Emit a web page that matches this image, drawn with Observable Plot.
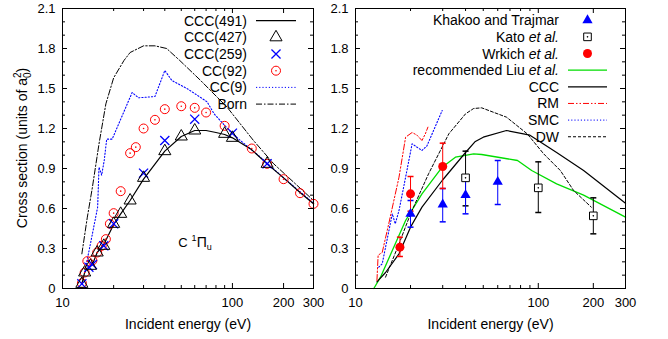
<!DOCTYPE html>
<html><head><meta charset="utf-8">
<script src="https://cdn.jsdelivr.net/npm/d3@7"></script>
<script src="https://cdn.jsdelivr.net/npm/@observablehq/plot@0.6"></script>
<style>
body{margin:0;background:#fff;}
#wrap{display:flex;width:668px;height:339px;}
svg{overflow:visible;display:block}
</style></head><body><div id="wrap"></div>
<script>
// ---------- tick values ----------
const xMajorTicks = [10, 100, 200, 300];
const xMinorTicks = [20, 30, 40, 50, 60, 70, 80, 90];
const yMajorTicks = [0, 0.3, 0.6, 0.9, 1.2, 1.5, 1.8, 2.1];
const yMinorTicks = [0.1, 0.2, 0.4, 0.5, 0.7, 0.8, 1.0, 1.1, 1.3, 1.4, 1.6, 1.7, 1.9, 2.0];

// ---------- left panel ----------
const ccc491E = [13, 13.5, 14, 15, 16, 17.5, 20, 22, 25, 30, 40, 50, 60, 70, 80, 90, 100, 130, 160, 200, 250, 300];
const ccc491V = [0.035, 0.12, 0.15, 0.18, 0.27, 0.33, 0.48, 0.56, 0.66, 0.82, 1.03, 1.14, 1.185, 1.185, 1.17, 1.155, 1.13, 1.04, 0.935, 0.83, 0.72, 0.635];

const ccc427E = [13, 13.5, 14.6, 16, 17.5, 20, 22, 25, 30, 40, 50, 60, 90, 100, 160];
const ccc427V = [0.035, 0.12, 0.17, 0.27, 0.32, 0.485, 0.56, 0.66, 0.83, 1.03, 1.14, 1.185, 1.16, 1.13, 0.935];

const ccc259E = [13, 14.3, 15, 17.5, 20, 30, 40, 60, 100, 160];
const ccc259V = [0.035, 0.16, 0.18, 0.32, 0.485, 0.865, 1.11, 1.27, 1.165, 0.935];

const cc92E = [13, 13.5, 14, 15, 16, 17, 18, 19, 20, 22, 25, 27, 30, 35, 40, 50, 60, 70, 90, 130, 160, 200, 250, 300];
const cc92V = [0.04, 0.12, 0.205, 0.21, 0.27, 0.32, 0.37, 0.485, 0.565, 0.73, 1.015, 1.06, 1.2, 1.265, 1.345, 1.367, 1.355, 1.32, 1.22, 1.05, 0.935, 0.82, 0.715, 0.635];

const cc9E = [13.8, 15, 16.1, 16.4, 17, 17.6, 18.2, 19.6, 25.7, 28, 35, 40, 44, 54, 71, 78, 100, 146, 200, 300];
const cc9V = [0.18, 0.41, 0.61, 0.91, 0.85, 0.96, 1.12, 1.12, 1.47, 1.43, 1.44, 1.635, 1.56, 1.5, 1.4, 1.31, 1.16, 0.985, 0.83, 0.64];

const bornE = [13, 14, 15, 16.4, 18, 20, 23, 25, 30, 35, 41, 49, 65, 93, 133, 175, 300];
const bornV = [0.26, 0.535, 0.76, 1.085, 1.385, 1.58, 1.71, 1.77, 1.82, 1.82, 1.8, 1.71, 1.56, 1.36, 1.11, 0.935, 0.66];

// ---------- right panel ----------
const khakooE = [20, 30, 40, 60];
const khakooV = [0.56, 0.63, 0.70, 0.80];
const khakooLo = [0.46, 0.50, 0.56, 0.63];
const khakooHi = [0.66, 0.75, 0.84, 0.96];

const katoE = [40, 100, 200];
const katoV = [0.83, 0.755, 0.545];
const katoLo = [0.62, 0.57, 0.41];
const katoHi = [1.03, 0.95, 0.68];

const wrkichE = [17.5, 20, 30];
const wrkichV = [0.31, 0.71, 0.915];
const wrkichLo = [0.24, 0.58, 0.75];
const wrkichHi = [0.385, 0.84, 1.09];

const liuE = [12.6, 13.7, 15.9, 18.8, 23.1, 29.8, 35.2, 44.3, 49, 77, 92, 126, 177, 300];
const liuV = [0, 0.085, 0.285, 0.51, 0.71, 0.91, 0.985, 1.01, 1.005, 0.96, 0.885, 0.785, 0.70, 0.535];

const cccE = [13.1, 14.6, 17.3, 20, 23.1, 29.8, 40, 45, 50, 67, 90, 126, 177, 300];
const cccV = [0.05, 0.12, 0.26, 0.46, 0.61, 0.81, 1.02, 1.1, 1.135, 1.185, 1.15, 1.02, 0.885, 0.64];

const dwE = [14.6, 17.3, 20, 25.1, 32.4, 40, 44.3, 49, 67, 87, 107, 132, 156, 195];
const dwV = [0.085, 0.335, 0.56, 0.86, 1.16, 1.31, 1.35, 1.355, 1.285, 1.16, 1.01, 0.885, 0.735, 0.61];

const rmE = [13.1, 13.3, 14.0, 15.2, 17.3, 18.8, 20.4, 21.7, 23.1, 24.1, 24.9];
const rmV = [0.06, 0.25, 0.27, 0.485, 0.835, 1.135, 1.17, 1.15, 1.11, 1.16, 1.21];

const smcE = [13.4, 14.0, 15.9, 16.5, 17.3, 18.8, 20.4, 23.1, 24.6, 29.8];
const smcV = [0.16, 0.185, 0.56, 0.485, 0.585, 0.835, 1.085, 1.035, 1.07, 1.335];

// ---------- legend labels ----------
const leftLabels = ["CCC(491)", "CCC(427)", "CCC(259)", "CC(92)", "CC(9)", "Born"];
const rightLabels = [
  [["Khakoo and Trajmar", false]],
  [["Kato ", false], ["et al.", true]],
  [["Wrkich ", false], ["et al.", true]],
  [["recommended Liu ", false], ["et al.", true]],
  [["CCC", false]],
  [["RM", false]],
  [["SMC", false]],
  [["DW", false]]
];

// ---------- helpers ----------
const rows = (E, V, lo, hi) => E.map((e, i) => ({E: e, v: V[i], lo: lo ? lo[i] : null, hi: hi ? hi[i] : null}));
const RED = "#ff0000", BLUE = "#0000ff", GREEN = "#00dd00", BLACK = "#000000";
const capSymbol = {draw(ctx, size) { const w = Math.sqrt(size / Math.PI); ctx.moveTo(-w, 0); ctx.lineTo(w, 0); }};
const FONT = "'Liberation Sans', Arial, Helvetica, sans-serif";

function frameTicks(iw, ih) {
  const M = 5, m = 3;
  const o = {stroke: BLACK, strokeWidth: 1};
  return [
    Plot.ruleX(xMajorTicks, {...o, x: d => d, insetTop: ih - M}),
    Plot.ruleX(xMajorTicks, {...o, x: d => d, insetBottom: ih - M}),
    Plot.ruleX(xMinorTicks, {...o, x: d => d, insetTop: ih - m}),
    Plot.ruleX(xMinorTicks, {...o, x: d => d, insetBottom: ih - m}),
    Plot.ruleY(yMajorTicks, {...o, y: d => d, insetRight: iw - M}),
    Plot.ruleY(yMajorTicks, {...o, y: d => d, insetLeft: iw - M}),
    Plot.ruleY(yMinorTicks, {...o, y: d => d, insetRight: iw - m}),
    Plot.ruleY(yMinorTicks, {...o, y: d => d, insetLeft: iw - m})
  ];
}

function axes() {
  return [
    Plot.text(xMajorTicks, {x: d => d, text: d => String(d), frameAnchor: "bottom", dy: 14, lineAnchor: "middle", fontSize: 13}),
    Plot.text(yMajorTicks, {y: d => d, text: d => d === 0 ? "0" : d.toFixed(1), frameAnchor: "left", dx: -7, textAnchor: "end", fontSize: 13}),
    Plot.text(["Incident energy (eV)"], {text: d => d, frameAnchor: "bottom", dy: 36, lineAnchor: "middle", fontSize: 14})
  ];
}

// legend: items = [{label:[[txt,italic]...], kind, ...style}]
function legend(items, {xText, x0, x1, y0, dy}) {
  return () => {
    const g = d3.create("svg:g").attr("font-size", 14).attr("font-family", FONT);
    items.forEach((it, i) => {
      const y = y0 + i * dy;
      const t = g.append("text").attr("x", xText).attr("y", y).attr("dy", "0.36em").attr("text-anchor", "end").attr("fill", "black");
      it.label.forEach(([s, it2]) => t.append("tspan").attr("font-style", it2 ? "italic" : null).text(s));
      const xc = (x0 + x1) / 2;
      if (it.kind === "line") {
        g.append("line").attr("x1", x0).attr("x2", x1).attr("y1", y).attr("y2", y)
          .attr("stroke", it.stroke).attr("stroke-width", it.sw || 1).attr("stroke-dasharray", it.dash || null);
      } else {
        const sym = d3.symbol(it.symbol, Math.PI * it.r * it.r)();
        g.append("path").attr("d", sym).attr("transform", `translate(${xc},${y})`)
          .attr("fill", it.fill || "none").attr("stroke", it.stroke || "none").attr("stroke-width", it.sw || 1);
        if (it.dot) g.append("circle").attr("cx", xc).attr("cy", y).attr("r", 0.8).attr("fill", it.stroke);
      }
    });
    return g.node();
  };
}

// ---------- left plot ----------
const L = {width: 327, height: 339, mt: 8, mb: 51, ml: 62, mr: 14};
const lIW = L.width - L.ml - L.mr, lIH = L.height - L.mt - L.mb;

const yLabel = (index, scales, values, dims) => {
  const g = d3.create("svg:g").attr("font-family", FONT);
  const cy = (dims.marginTop + dims.height - dims.marginBottom) / 2;
  const t = g.append("text").attr("transform", `translate(27,${cy}) rotate(-90)`).attr("text-anchor", "middle").attr("font-size", 14).attr("fill", "black");
  t.append("tspan").text("Cross section (units of a");
  t.append("tspan").attr("font-size", 10).attr("dy", 4).text("0");
  t.append("tspan").attr("font-size", 10).attr("dx", -5.6).attr("dy", -10).text("2");
  t.append("tspan").attr("dy", 6).text(")");
  return g.node();
};

const stateLabel = () => {
  const g = d3.create("svg:g").attr("font-family", FONT);
  const t = g.append("text").attr("x", 195).attr("y", 247).attr("font-size", 13).attr("fill", "black");
  t.append("tspan").text("C");
  t.append("tspan").attr("dx", 4).attr("dy", -6).attr("font-size", 9).text("1");
  t.append("tspan").attr("dy", 6).attr("font-size", 14).text("Π");
  t.append("tspan").attr("dy", 3).attr("font-size", 9).text("u");
  return g.node();
};

const leftItems = [
  {label: [[leftLabels[0], false]], kind: "line", stroke: BLACK, sw: 1.2},
  {label: [[leftLabels[1], false]], kind: "sym", symbol: d3.symbolTriangle, r: 4.5, stroke: BLACK},
  {label: [[leftLabels[2], false]], kind: "sym", symbol: d3.symbolTimes, r: 4.2, stroke: BLUE, sw: 1.3},
  {label: [[leftLabels[3], false]], kind: "sym", symbol: d3.symbolCircle, r: 4.5, stroke: RED, dot: true},
  {label: [[leftLabels[4], false]], kind: "line", stroke: BLUE, dash: "1.2,2"},
  {label: [[leftLabels[5], false]], kind: "line", stroke: BLACK, dash: "6,2,1.5,2"}
];

const left = Plot.plot({
  width: L.width, height: L.height,
  marginTop: L.mt, marginBottom: L.mb, marginLeft: L.ml, marginRight: L.mr,
  style: {fontFamily: FONT, fontSize: "13px", background: "white", color: "black", overflow: "visible"},
  x: {type: "log", domain: [10, 300], label: null, axis: null},
  y: {domain: [0, 2.1], label: null, axis: null},
  marks: [
    Plot.line(rows(bornE, bornV), {x: "E", y: "v", stroke: BLACK, strokeWidth: 1, strokeDasharray: "6,2,1.5,2"}),
    Plot.line(rows(cc9E, cc9V), {x: "E", y: "v", stroke: BLUE, strokeWidth: 1.1, strokeDasharray: "1.2,2"}),
    Plot.line(rows(ccc491E, ccc491V), {x: "E", y: "v", stroke: BLACK, strokeWidth: 1.2}),
    Plot.dot(rows(cc92E, cc92V), {x: "E", y: "v", r: 4.5, stroke: RED, strokeWidth: 1, fill: "none"}),
    Plot.dot(rows(cc92E, cc92V), {x: "E", y: "v", r: 0.8, fill: RED}),
    Plot.dot(rows(ccc259E, ccc259V), {x: "E", y: "v", symbol: "times", r: 4.2, stroke: BLUE, strokeWidth: 1.3}),
    Plot.dot(rows(ccc427E, ccc427V), {x: "E", y: "v", symbol: "triangle", r: 4.5, stroke: BLACK, strokeWidth: 1, fill: "none"}),
    ...frameTicks(lIW, lIH),
    Plot.frame({stroke: BLACK, strokeWidth: 1}),
    ...axes(),
    yLabel,
    stateLabel,
    legend(leftItems, {xText: 247, x0: 256, x1: 296, y0: 20.6, dy: 16.7})
  ]
});

// ---------- right plot ----------
const R = {width: 341, height: 339, mt: 8, mb: 51, ml: 28, mr: 43};
const rIW = R.width - R.ml - R.mr, rIH = R.height - R.mt - R.mb;

const rightItems = [
  {label: rightLabels[0], kind: "sym", symbol: d3.symbolTriangle, r: 3.8, fill: BLUE},
  {label: rightLabels[1], kind: "sym", symbol: d3.symbolSquare, r: 4.3, stroke: BLACK, dot: true},
  {label: rightLabels[2], kind: "sym", symbol: d3.symbolCircle, r: 4.5, fill: RED},
  {label: rightLabels[3], kind: "line", stroke: GREEN, sw: 1.3},
  {label: rightLabels[4], kind: "line", stroke: BLACK, sw: 1.2},
  {label: rightLabels[5], kind: "line", stroke: RED, dash: "6,2,1.5,2,1.5,2"},
  {label: rightLabels[6], kind: "line", stroke: BLUE, dash: "1.2,2"},
  {label: rightLabels[7], kind: "line", stroke: BLACK, dash: "3,2"}
];

const kh = rows(khakooE, khakooV, khakooLo, khakooHi);
const ka = rows(katoE, katoV, katoLo, katoHi);
const wr = rows(wrkichE, wrkichV, wrkichLo, wrkichHi);

const right = Plot.plot({
  width: R.width, height: R.height,
  marginTop: R.mt, marginBottom: R.mb, marginLeft: R.ml, marginRight: R.mr,
  style: {fontFamily: FONT, fontSize: "13px", background: "white", color: "black", overflow: "visible"},
  x: {type: "log", domain: [10, 300], label: null, axis: null},
  y: {domain: [0, 2.1], label: null, axis: null},
  marks: [
    Plot.line(rows(liuE, liuV), {x: "E", y: "v", stroke: GREEN, strokeWidth: 1.3}),
    Plot.line(rows(cccE, cccV), {x: "E", y: "v", stroke: BLACK, strokeWidth: 1.2}),
    Plot.line(rows(dwE, dwV), {x: "E", y: "v", stroke: BLACK, strokeWidth: 1, strokeDasharray: "3,2"}),
    Plot.line(rows(smcE, smcV), {x: "E", y: "v", stroke: BLUE, strokeWidth: 1.1, strokeDasharray: "1.2,2"}),
    Plot.line(rows(rmE, rmV), {x: "E", y: "v", stroke: RED, strokeWidth: 1, strokeDasharray: "6,2,1.5,2,1.5,2"}),
    // error bars
    Plot.ruleX(ka, {x: "E", y1: "lo", y2: "hi", stroke: BLACK, strokeWidth: 1}),
    Plot.dot(ka, {x: "E", y: "lo", symbol: capSymbol, r: 3, stroke: BLACK}),
    Plot.dot(ka, {x: "E", y: "hi", symbol: capSymbol, r: 3, stroke: BLACK}),
    Plot.ruleX(kh, {x: "E", y1: "lo", y2: "hi", stroke: BLUE, strokeWidth: 1}),
    Plot.dot(kh, {x: "E", y: "lo", symbol: capSymbol, r: 3, stroke: BLUE}),
    Plot.dot(kh, {x: "E", y: "hi", symbol: capSymbol, r: 3, stroke: BLUE}),
    Plot.ruleX(wr, {x: "E", y1: "lo", y2: "hi", stroke: RED, strokeWidth: 1}),
    Plot.dot(wr, {x: "E", y: "lo", symbol: capSymbol, r: 3, stroke: RED}),
    Plot.dot(wr, {x: "E", y: "hi", symbol: capSymbol, r: 3, stroke: RED}),
    // points
    Plot.dot(ka, {x: "E", y: "v", symbol: "square", r: 4.3, stroke: BLACK, fill: "white", strokeWidth: 1}),
    Plot.dot(ka, {x: "E", y: "v", r: 0.8, fill: BLACK}),
    Plot.dot(kh, {x: "E", y: "v", symbol: "triangle", r: 3.8, fill: BLUE}),
    Plot.dot(wr, {x: "E", y: "v", r: 4.5, fill: RED}),
    ...frameTicks(rIW, rIH),
    Plot.frame({stroke: BLACK, strokeWidth: 1}),
    ...axes(),
    legend(rightItems, {xText: 232, x0: 241, x1: 280, y0: 20.2, dy: 16.65})
  ]
});

const wrap = document.getElementById("wrap");
wrap.appendChild(left);
wrap.appendChild(right);
</script></body></html>
